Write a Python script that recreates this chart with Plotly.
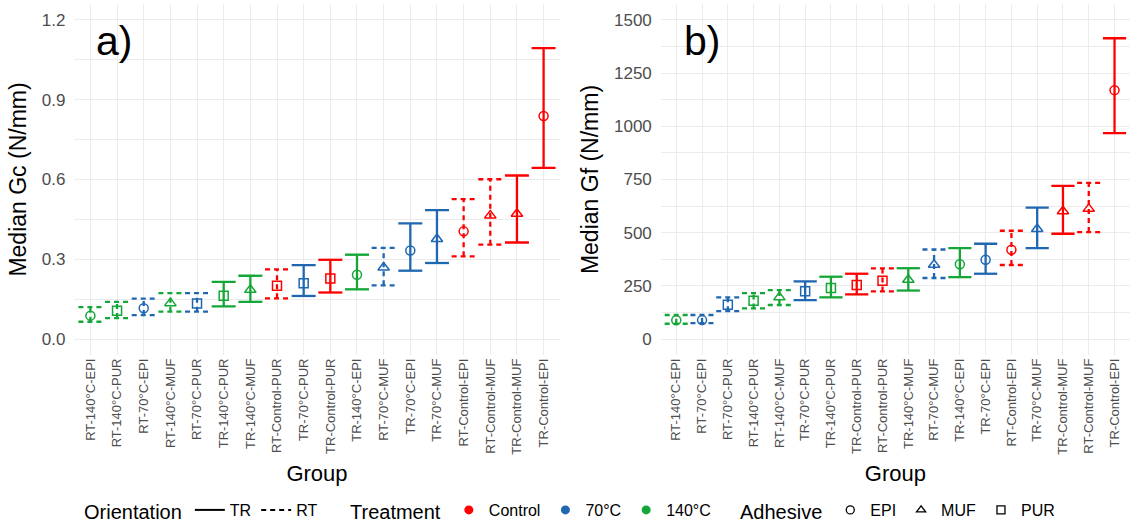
import plotly.graph_objects as go

# ---------------- data ----------------
groups_a = ["RT-140°C-EPI", "RT-140°C-PUR", "RT-70°C-EPI", "RT-140°C-MUF", "RT-70°C-PUR",
            "TR-140°C-PUR", "TR-140°C-MUF", "RT-Control-PUR", "TR-70°C-PUR", "TR-Control-PUR",
            "TR-140°C-EPI", "RT-70°C-MUF", "TR-70°C-EPI", "TR-70°C-MUF", "RT-Control-EPI",
            "RT-Control-MUF", "TR-Control-MUF", "TR-Control-EPI"]
median_a = [0.088, 0.106, 0.116, 0.135, 0.134, 0.163, 0.185, 0.200, 0.210, 0.228,
            0.242, 0.269, 0.333, 0.376, 0.405, 0.465, 0.471, 0.839]
lower_a = [0.065, 0.079, 0.090, 0.103, 0.103, 0.123, 0.140, 0.153, 0.162, 0.175,
           0.187, 0.202, 0.257, 0.286, 0.311, 0.355, 0.363, 0.644]
upper_a = [0.120, 0.140, 0.152, 0.173, 0.173, 0.215, 0.238, 0.262, 0.278, 0.298,
           0.317, 0.343, 0.435, 0.485, 0.526, 0.601, 0.615, 1.094]

groups_b = ["RT-140°C-EPI", "RT-70°C-EPI", "RT-70°C-PUR", "RT-140°C-PUR", "RT-140°C-MUF",
            "TR-70°C-PUR", "TR-140°C-PUR", "TR-Control-PUR", "RT-Control-PUR", "TR-140°C-MUF",
            "RT-70°C-MUF", "TR-140°C-EPI", "TR-70°C-EPI", "RT-Control-EPI", "TR-70°C-MUF",
            "TR-Control-MUF", "RT-Control-MUF", "TR-Control-EPI"]
median_b = [88, 89, 161, 180, 196, 225, 240, 254, 274, 279, 349, 352, 373, 420, 517, 601, 612, 1170]
lower_b = [72, 75, 131, 144, 160, 183, 196, 210, 224, 228, 287, 291, 307, 348, 427, 495, 503, 968]
upper_b = [113, 113, 196, 216, 230, 271, 293, 307, 332, 333, 421, 427, 448, 509, 618, 720, 734, 1414]

yticks_a = [0.0, 0.3, 0.6, 0.9, 1.2]
yticks_b = [0, 250, 500, 750, 1000, 1250, 1500]

orientations = ["TR", "RT"]
treatments = ["Control", "70°C", "140°C"]
adhesives = ["EPI", "MUF", "PUR"]

# ---------------- styles ----------------
treat_color = {"Control": "#FF0000", "70°C": "#1F67B1", "140°C": "#14A637"}
orient_dash = {"TR": "solid", "RT": "5px,4px"}
adh_symbol = {"EPI": "circle-open", "MUF": "triangle-up-open", "PUR": "square-open"}
adh_size = {"EPI": 9, "MUF": 10, "PUR": 9}
FONT = "Liberation Sans, Arial, sans-serif"
GRID = "#EBEBEB"
CAP = 0.45

fig = go.Figure()


def add_panel(groups, med, lo, hi, xa, ya):
    for i, g in enumerate(groups):
        o, t, a = g.split("-")
        col = treat_color[t]
        fig.add_trace(go.Scatter(
            x=[i, i, None, i - CAP, i + CAP, None, i - CAP, i + CAP],
            y=[lo[i], hi[i], None, hi[i], hi[i], None, lo[i], lo[i]],
            mode="lines", line=dict(color=col, width=2.3, dash=orient_dash[o]),
            xaxis=xa, yaxis=ya, showlegend=False, hoverinfo="skip"))
        fig.add_trace(go.Scatter(
            x=[i], y=[med[i]], mode="markers",
            marker=dict(symbol=adh_symbol[a], size=adh_size[a], color=col, line=dict(color=col, width=1.5)),
            xaxis=xa, yaxis=ya, showlegend=False, name=g))


add_panel(groups_a, median_a, lower_a, upper_a, "x", "y")
add_panel(groups_b, median_b, lower_b, upper_b, "x2", "y2")

# legend-only traces
for o in orientations:
    fig.add_trace(go.Scatter(x=[None], y=[None], mode="lines", name=o,
                             line=dict(color="black", width=2, dash=orient_dash[o]),
                             legend="legend"))
for t in treatments:
    fig.add_trace(go.Scatter(x=[None], y=[None], mode="markers", name=t,
                             marker=dict(symbol="circle", size=9, color=treat_color[t]),
                             legend="legend2"))
for a in adhesives:
    fig.add_trace(go.Scatter(x=[None], y=[None], mode="markers", name=a,
                             marker=dict(symbol=adh_symbol[a], size=8, color="black",
                                         line=dict(color="black", width=1.3)),
                             legend="legend3"))

W, H = 1130, 524
common_x = dict(tickangle=-90, tickfont=dict(size=13, color="#4D4D4D", family=FONT),
                showgrid=True, gridcolor=GRID, gridwidth=1.4, zeroline=False, automargin=False,
                range=[-0.6, 17.6], ticks="", showline=False,
                title=dict(text="Group", font=dict(size=22, color="black", family=FONT), standoff=11))
ytitle_font = dict(size=23, color="black", family=FONT)
LEG_Y = (355 - 511) / (H - 4 - 169)
fig.update_layout(
    width=W, height=H,
    margin=dict(l=0, r=0, t=4, b=169, autoexpand=False),
    plot_bgcolor="white", paper_bgcolor="white",
    font=dict(family=FONT),
    xaxis=dict(domain=[74.4 / W, 559.6 / W], tickvals=list(range(len(groups_a))), ticktext=groups_a,
               **common_x),
    xaxis2=dict(domain=[660.8 / W, 1.0], tickvals=list(range(len(groups_b))), ticktext=groups_b,
                anchor="y2", **common_x),
    yaxis=dict(range=[-0.06, 1.26], tickvals=yticks_a, ticktext=[f"{v:.1f}" for v in yticks_a],
               tickfont=dict(size=17, color="#4D4D4D", family=FONT), ticklabelstandoff=8,
               showgrid=True, gridcolor=GRID, gridwidth=1.4, zeroline=False, automargin=False,
               minor=dict(tickvals=[0.15, 0.45, 0.75, 1.05], showgrid=True, gridcolor=GRID, gridwidth=0.8),
               title=dict(text="Median Gc (N/mm)", font=ytitle_font, standoff=8)),
    yaxis2=dict(range=[-75, 1575], tickvals=yticks_b, ticktext=[str(v) for v in yticks_b], anchor="x2",
                tickfont=dict(size=17, color="#4D4D4D", family=FONT), ticklabelstandoff=8,
                showgrid=True, gridcolor=GRID, gridwidth=1.4, zeroline=False, automargin=False,
                minor=dict(tickvals=[125, 375, 625, 875, 1125, 1375], showgrid=True, gridcolor=GRID, gridwidth=0.8),
                title=dict(text="Median Gf (N/mm)", font=ytitle_font, standoff=8)),
    legend=dict(orientation="h", x=82 / W, y=LEG_Y, xanchor="left", yanchor="middle",
                title=dict(text="Orientation", side="left", font=dict(size=20, color="black")),
                font=dict(size=16, color="black", family=FONT), itemwidth=30, bgcolor="rgba(0,0,0,0)"),
    legend2=dict(orientation="h", x=348 / W, y=LEG_Y, xanchor="left", yanchor="middle",
                 title=dict(text="Treatment", side="left", font=dict(size=20, color="black")),
                 font=dict(size=16, color="black", family=FONT), itemwidth=30, bgcolor="rgba(0,0,0,0)"),
    legend3=dict(orientation="h", x=738 / W, y=LEG_Y, xanchor="left", yanchor="middle",
                 title=dict(text="Adhesive", side="left", font=dict(size=20, color="black")),
                 font=dict(size=16, color="black", family=FONT), itemwidth=30, bgcolor="rgba(0,0,0,0)"),
)
ph = H - 4 - 169
fig.layout.annotations = [
    dict(text="a)", xref="paper", yref="paper", x=94 / W, y=(355 - 41) / ph, xanchor="left", yanchor="middle",
         showarrow=False, font=dict(size=41, color="black", family=FONT)),
    dict(text="b)", xref="paper", yref="paper", x=682 / W, y=(355 - 41) / ph, xanchor="left", yanchor="middle",
         showarrow=False, font=dict(size=41, color="black", family=FONT)),
]

fig.write_html("out.html")
